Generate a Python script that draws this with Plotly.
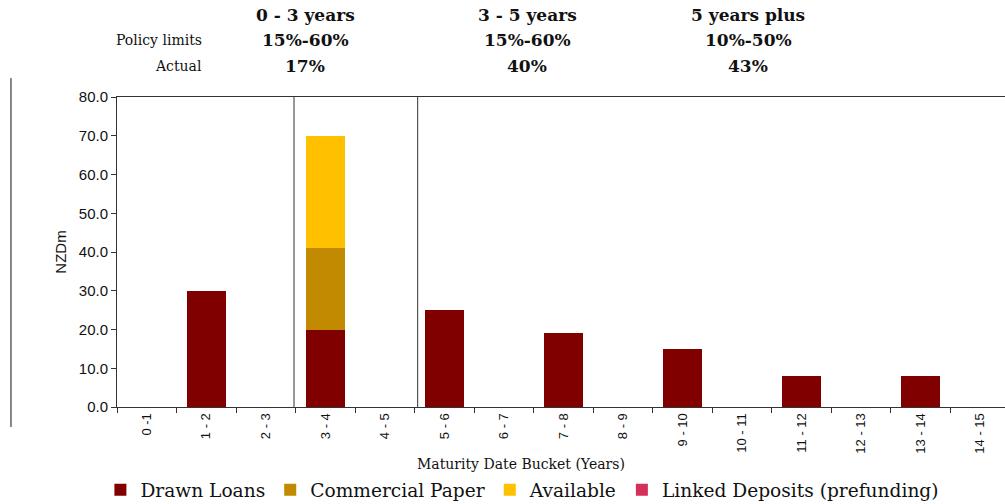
import plotly.graph_objects as go

categories = ["0 -1", "1 - 2", "2 - 3", "3 - 4", "4 - 5", "5 - 6", "6 - 7", "7 - 8",
              "8 - 9", "9 - 10", "10 - 11", "11 - 12", "12 - 13", "13 - 14", "14 - 15"]
drawn_loans = [0, 30, 0, 20, 0, 25, 0, 19, 0, 15, 0, 8, 0, 8, 0]
commercial_paper = [0, 0, 0, 21, 0, 0, 0, 0, 0, 0, 0, 0, 0, 0, 0]
available = [0, 0, 0, 29, 0, 0, 0, 0, 0, 0, 0, 0, 0, 0, 0]
linked_deposits = [0, 0, 0, 0, 0, 0, 0, 0, 0, 0, 0, 0, 0, 0, 0]

bands = ["0 - 3 years", "3 - 5 years", "5 years plus"]
policy_limits = ["15%-60%", "15%-60%", "10%-50%"]
actual = ["17%", "40%", "43%"]

SERIF = "Georgia, 'DejaVu Serif', serif"
SANS = "Arial, 'Liberation Sans', sans-serif"

fig = go.Figure()
series = [("Drawn Loans", drawn_loans, "#800000"),
          ("Commercial Paper", commercial_paper, "#C28A00"),
          ("Available", available, "#FFC000"),
          ("Linked Deposits (prefunding)", linked_deposits, "#D6305A")]
for name, vals, col in series:
    fig.add_trace(go.Bar(x=categories, y=vals, name=name, marker_color=col,
                         marker_line_width=0, width=0.65))

fig.update_layout(
    barmode="stack",
    width=1005, height=504,
    margin=dict(l=117, r=0, t=97, b=97, autoexpand=False),
    plot_bgcolor="white", paper_bgcolor="white",
    showlegend=True,
    legend=dict(orientation="h", x=-0.0187, xanchor="left", y=-0.268, yanchor="middle",
                traceorder="normal",
                font=dict(family=SERIF, size=18.6, color="#111"),
                itemwidth=30, tracegroupgap=0),
    xaxis=dict(type="category", range=[-0.5, 14.42], tickangle=-90, automargin=False,
               tickson="boundaries", ticks="outside", ticklen=5, tickcolor="#333",
               showline=True, linecolor="#333", mirror=True, showgrid=False,
               tickfont=dict(family=SANS, size=13, color="#111")),
    yaxis=dict(range=[0, 80], dtick=10, tickformat=".1f", ticks="outside", ticklen=5,
               automargin=False,
               tickcolor="#333", showline=True, linecolor="#333", showgrid=False,
               zeroline=False,
               tickfont=dict(family=SANS, size=15, color="#111"),
               title=dict(text="NZDm", font=dict(family=SANS, size=15, color="#111"),
                          standoff=8)),
)

# x-axis title (positioned as in the reference)
fig.add_annotation(xref="paper", yref="paper", x=(521 - 117) / 888, y=(407 - 464) / 310,
                   text="Maturity Date Bucket (Years)", showarrow=False,
                   xanchor="center", yanchor="middle",
                   font=dict(family=SERIF, size=14, color="#111"))

# band separators
for xv in [2.474, 4.552]:
    fig.add_shape(type="line", x0=xv, x1=xv, y0=0, y1=80, xref="x", yref="y",
                  line=dict(color="#333", width=1))

# left border line
fig.add_shape(type="line", xref="paper", yref="paper",
              x0=-0.1194, x1=-0.1194, y0=-0.0645, y1=1.061,
              line=dict(color="#111", width=1))

# header annotations
band_x = [305, 527, 748]
for bx, b, p, a in zip(band_x, bands, policy_limits, actual):
    fx = (bx - 117) / 888
    fig.add_annotation(xref="paper", yref="paper", x=fx, y=(407 - 15) / 310,
                       text="<b>%s</b>" % b, showarrow=False,
                       font=dict(family=SERIF, size=17, color="#111"), xanchor="center", yanchor="middle")
    fig.add_annotation(xref="paper", yref="paper", x=fx, y=(407 - 40) / 310,
                       text="<b>%s</b>" % p, showarrow=False,
                       font=dict(family=SERIF, size=17, color="#111"), xanchor="center", yanchor="middle")
    fig.add_annotation(xref="paper", yref="paper", x=fx, y=(407 - 66) / 310,
                       text="<b>%s</b>" % a, showarrow=False,
                       font=dict(family=SERIF, size=17, color="#111"), xanchor="center", yanchor="middle")

for txt, yy in [("Policy limits", 40), ("Actual", 66)]:
    fig.add_annotation(xref="paper", yref="paper", x=(204 - 117) / 888, y=(407 - yy) / 310,
                       text=txt, showarrow=False, xanchor="right", yanchor="middle",
                       font=dict(family=SERIF, size=14, color="#111"))

fig.write_html("out.html", config={"displayModeBar": False},
               post_script="document.body.style.margin='0';")
